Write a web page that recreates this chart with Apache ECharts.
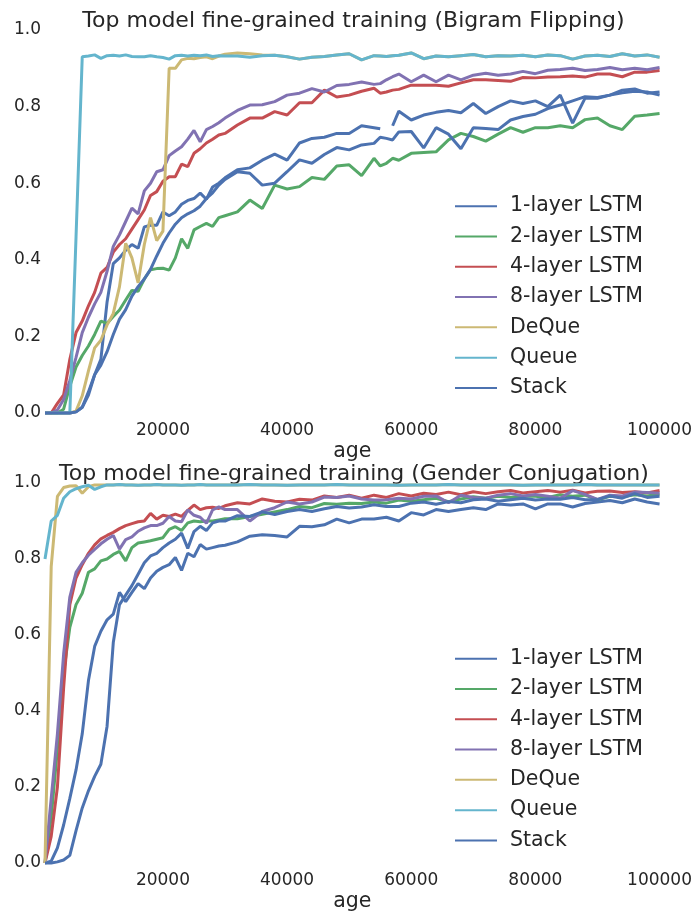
<!DOCTYPE html>
<html><head><meta charset="utf-8">
<script src="https://cdn.jsdelivr.net/npm/echarts@6/dist/echarts.min.js"></script>
<style>html,body{margin:0;padding:0;background:#fff}#c{width:695px;height:913px}</style>
</head><body><div id="c"></div>
<script>
const seriesNames = ['1-layer LSTM','2-layer LSTM','4-layer LSTM','8-layer LSTM','DeQue','Queue','Stack'];
const seriesColors = ['#4C72B0','#55A868','#C44E52','#8172B2','#CCB974','#64B5CD','#4C72B0'];
const titleTop = 'Top model fine-grained training (Bigram Flipping)';
const titleBottom = 'Top model fine-grained training (Gender Conjugation)';
const xTickValues = [20000,40000,60000,80000,100000];
const yTickStep = 0.2;

// ---------- Top chart (Bigram Flipping) ----------
const agesTop = [1000,2000,3000,4000,5000,6000,7000,8000,9000,10000,11000,12000,13000,14000,15000,16000,17000,18000,19000,20000,21000,22000,23000,24000,25000,26000,27000,28000,29000,30000,
32000,34000,36000,38000,40000,42000,44000,46000,48000,50000,52000,54000,55000,56000,57000,
58000,60000,62000,64000,66000,68000,70000,72000,74000,76000,78000,80000,82000,84000,86000,88000,90000,92000,94000,96000,98000,100000];

const top1Layer = [0,0,0,0,0,0.003,0.015,0.047,0.1,0.14,0.29,0.39,0.405,0.425,0.44,0.43,0.486,0.49,0.49,0.525,0.515,0.525,0.545,0.555,0.56,0.574,0.558,0.59,0.6,0.614,
0.635,0.64,0.66,0.676,0.66,0.705,0.717,0.72,0.73,0.73,0.75,0.745,0.742,null,0.75,
0.788,0.765,0.778,0.785,0.79,0.784,0.808,0.782,0.8,0.815,0.808,0.815,0.8,0.83,0.757,0.822,0.822,0.83,0.836,0.84,0.838,0.83];
const top2Layer = [0,0,0,0.01,0.07,0.12,0.15,0.175,0.205,0.24,0.234,0.252,0.269,0.295,0.32,0.318,0.35,0.374,0.377,0.378,0.373,0.405,0.455,0.43,0.478,0.487,0.495,0.487,0.51,0.515,
0.525,0.556,0.534,0.595,0.585,0.591,0.615,0.61,0.645,0.648,0.62,0.665,0.645,0.652,0.665,
0.66,0.678,0.68,0.682,0.713,0.73,0.722,0.71,0.728,0.745,0.733,0.745,0.745,0.75,0.745,0.766,0.77,0.75,0.74,0.775,0.778,0.782];
const top4Layer = [0,0,0.025,0.047,0.14,0.21,0.24,0.28,0.315,0.365,0.38,0.42,0.44,0.455,0.48,0.505,0.53,0.568,0.578,0.605,0.617,0.617,0.65,0.643,0.678,0.69,0.705,0.715,0.726,0.73,
0.752,0.77,0.77,0.787,0.778,0.81,0.81,0.843,0.825,0.83,0.84,0.848,0.835,0.838,0.843,
0.845,0.856,0.856,0.856,0.853,0.862,0.87,0.87,0.868,0.866,0.876,0.875,0.877,0.878,0.88,0.877,0.885,0.885,0.878,0.89,0.89,0.894];
const top8Layer = [0,0,0.008,0.035,0.085,0.145,0.21,0.25,0.285,0.315,0.37,0.435,0.465,0.5,0.535,0.52,0.58,0.6,0.63,0.635,0.672,0.684,0.695,0.715,0.738,0.708,0.74,0.748,0.758,0.77,
0.79,0.804,0.805,0.813,0.83,0.835,0.847,0.838,0.855,0.858,0.864,0.858,0.86,0.87,0.878,
0.885,0.865,0.882,0.865,0.882,0.87,0.882,0.887,0.882,0.885,0.892,0.886,0.895,0.897,0.9,0.894,0.897,0.902,0.896,0.9,0.896,0.902];
const topDeque = [0,0,0,0,0,0.005,0.045,0.11,0.17,0.19,0.23,0.26,0.33,0.443,0.405,0.34,0.44,0.51,0.45,0.475,0.9,0.9,0.922,0.926,0.925,0.928,0.93,0.925,0.932,0.937,
0.94,0.938,0.935,0.934,0.93,0.924,0.929,0.931,0.935,0.938,0.922,0.933,0.932,0.931,0.933,
0.934,0.94,0.925,0.932,0.93,0.933,0.936,0.93,0.933,0.932,0.934,0.93,0.935,0.933,0.924,0.932,0.934,0.931,0.938,0.932,0.935,0.929];
const topQueue = [0,0,0,0,0,0.46,0.93,0.932,0.935,0.926,0.933,0.934,0.932,0.935,0.931,0.93,0.93,0.933,0.93,0.928,0.924,0.933,0.934,0.932,0.934,0.933,0.935,0.931,0.933,0.932,
0.932,0.929,0.933,0.934,0.93,0.924,0.929,0.931,0.935,0.938,0.922,0.933,0.932,0.931,0.933,
0.934,0.94,0.925,0.932,0.93,0.933,0.936,0.93,0.933,0.932,0.934,0.93,0.935,0.933,0.924,0.932,0.934,0.931,0.938,0.932,0.935,0.929];
const topStack = [0,0,0,0,0,0.003,0.015,0.055,0.1,0.125,0.16,0.205,0.245,0.27,0.305,0.33,0.35,0.375,0.41,0.443,0.47,0.493,0.51,0.52,0.528,0.54,0.56,0.575,0.595,0.61,
0.63,0.626,0.595,0.6,0.63,0.661,0.652,0.675,0.693,0.687,0.7,0.704,0.72,0.717,0.713,
0.734,0.735,0.692,0.745,0.728,0.69,0.745,0.743,0.74,0.765,0.774,0.78,0.795,0.804,0.815,0.826,0.824,0.83,0.843,0.846,0.835,0.838];

// ---------- Bottom chart (Gender Conjugation) ----------
const agesBottom = [1000,2000,3000,4000,5000,6000,7000,8000,9000,10000,11000,12000,13000,14000,15000,16000,17000,18000,19000,20000,21000,22000,23000,24000,25000,26000,27000,28000,29000,30000,
32000,34000,36000,38000,40000,42000,44000,46000,48000,50000,52000,54000,56000,58000,60000,62000,64000,66000,68000,70000,72000,74000,76000,78000,80000,82000,84000,86000,88000,90000,92000,94000,96000,98000,100000];

const bot1Layer = [0,0.005,0.04,0.1,0.17,0.245,0.34,0.48,0.57,0.61,0.64,0.655,0.712,0.688,0.712,0.735,0.722,0.75,0.768,0.778,0.785,0.804,0.77,0.815,0.806,0.838,0.826,0.83,0.834,0.836,
0.845,0.86,0.864,0.862,0.858,0.886,0.885,0.89,0.905,0.895,0.905,0.905,0.91,0.9,0.922,0.916,0.93,0.925,0.93,0.935,0.93,0.945,0.942,0.945,0.932,0.945,0.945,0.937,0.946,0.95,0.954,0.948,0.958,0.95,0.945];
const bot2Layer = [0,0.12,0.3,0.5,0.62,0.68,0.71,0.765,0.774,0.795,0.8,0.812,0.82,0.795,0.83,0.842,0.845,0.848,0.852,0.856,0.878,0.885,0.875,0.895,0.9,0.898,0.9,0.9,0.903,0.906,
0.906,0.912,0.918,0.924,0.93,0.938,0.935,0.946,0.944,0.947,0.946,0.95,0.947,0.955,0.952,0.956,0.96,0.951,0.958,0.964,0.96,0.965,0.962,0.965,0.965,0.962,0.969,0.965,0.968,0.956,0.965,0.964,0.969,0.966,0.971];
const bot4Layer = [0,0.07,0.2,0.46,0.68,0.75,0.785,0.815,0.837,0.853,0.862,0.87,0.88,0.888,0.893,0.898,0.9,0.92,0.905,0.915,0.912,0.918,0.912,0.928,0.942,0.93,0.935,0.936,0.933,0.94,
0.948,0.945,0.958,0.952,0.95,0.957,0.955,0.966,0.962,0.968,0.96,0.968,0.962,0.972,0.966,0.973,0.97,0.976,0.969,0.977,0.972,0.977,0.98,0.974,0.977,0.98,0.976,0.981,0.974,0.978,0.979,0.975,0.977,0.974,0.98];
const bot8Layer = [0,0.17,0.34,0.55,0.7,0.765,0.79,0.81,0.825,0.84,0.852,0.862,0.826,0.851,0.858,0.873,0.882,0.888,0.888,0.894,0.912,0.9,0.898,0.929,0.915,0.91,0.894,0.929,0.937,0.93,
0.93,0.9,0.925,0.935,0.95,0.945,0.95,0.963,0.962,0.966,0.958,0.955,0.956,0.96,0.958,0.965,0.966,0.948,0.968,0.962,0.96,0.968,0.972,0.966,0.97,0.965,0.96,0.98,0.97,0.957,0.968,0.966,0.976,0.975,0.973];
const botDeque = [0,0.78,0.965,0.988,0.992,0.993,0.973,0.99,0.995,0.995,0.995,0.995,0.996,0.995,0.995,0.994,0.995,0.995,0.996,0.995,0.995,0.995,0.994,0.995,0.995,0.996,0.995,0.995,0.995,0.995,
0.995,0.996,0.995,0.995,0.994,0.995,0.995,0.995,0.996,0.995,0.995,0.995,0.995,0.994,0.995,0.995,0.995,0.996,0.995,0.995,0.995,0.995,0.995,0.994,0.995,0.995,0.995,0.995,0.996,0.995,0.995,0.995,0.995,0.995,0.995];
const botQueue = [0.8,0.9,0.915,0.96,0.977,0.985,0.99,0.994,0.983,0.99,0.995,0.995,0.996,0.995,0.995,0.994,0.995,0.995,0.996,0.995,0.995,0.995,0.994,0.995,0.995,0.996,0.995,0.995,0.995,0.995,
0.995,0.996,0.995,0.995,0.994,0.995,0.995,0.995,0.996,0.995,0.995,0.995,0.995,0.994,0.995,0.995,0.995,0.996,0.995,0.995,0.995,0.995,0.995,0.994,0.995,0.995,0.995,0.995,0.996,0.995,0.995,0.995,0.995,0.995,0.995];
const botStack = [0,0,0.003,0.008,0.02,0.085,0.145,0.19,0.228,0.26,0.36,0.58,0.68,0.705,0.73,0.76,0.79,0.808,0.815,0.83,0.842,0.852,0.868,0.828,0.872,0.886,0.875,0.895,0.9,0.9,
0.914,0.912,0.924,0.917,0.925,0.93,0.925,0.932,0.938,0.934,0.937,0.943,0.938,0.938,0.947,0.95,0.944,0.951,0.948,0.956,0.958,0.952,0.956,0.96,0.955,0.958,0.957,0.962,0.956,0.956,0.966,0.96,0.972,0.962,0.965];

const topValues = [top1Layer, top2Layer, top4Layer, top8Layer, topDeque, topQueue, topStack];
const botValues = [bot1Layer, bot2Layer, bot4Layer, bot8Layer, botDeque, botQueue, botStack];

const FONT = 'DejaVu Sans';
const TXT = '#262626';

function pairs(ages, vals) {
  return ages.map((a, i) => [a, vals[i] === null ? '-' : vals[i]]);
}
function makeSeries(ages, valsList, idx) {
  return valsList.map((vals, k) => ({
    name: seriesNames[k],
    type: 'line',
    xAxisIndex: idx, yAxisIndex: idx,
    data: pairs(ages, vals),
    symbol: 'none', showSymbol: false,
    clip: false,
    connectNulls: false,
    lineStyle: { width: 3, color: seriesColors[k] },
    itemStyle: { color: seriesColors[k] },
    emphasis: { disabled: true },
    animation: false
  }));
}
function xAxisCfg(idx) {
  return {
    gridIndex: idx, type: 'value', min: 1000, max: 100000,
    axisLine: { show: false }, axisTick: { show: false }, splitLine: { show: false },
    axisLabel: { customValues: xTickValues, formatter: v => String(Math.round(v)), fontSize: 17, fontFamily: FONT, color: TXT, margin: 9 },
    name: 'age', nameLocation: 'middle', nameGap: 28,
    nameTextStyle: { fontSize: 20.5, fontFamily: FONT, color: TXT }
  };
}
function yAxisCfg(idx) {
  return {
    gridIndex: idx, type: 'value', min: 0, max: 1, interval: yTickStep,
    axisLine: { show: false }, axisTick: { show: false }, splitLine: { show: false },
    axisLabel: { formatter: v => v.toFixed(1), fontSize: 17, fontFamily: FONT, color: TXT, margin: 4 }
  };
}
function legendCfg(top) {
  return {
    data: seriesNames, orient: 'vertical', left: 450, top: top,
    icon: 'rect', itemWidth: 42, itemHeight: 2, itemGap: 0,
    selectedMode: false,
    textStyle: { fontSize: 20.5, fontFamily: FONT, color: TXT, lineHeight: 30.3, padding: [0, 0, 0, 8] }
  };
}

const chart = echarts.init(document.getElementById('c'), null, { renderer: 'canvas' });
chart.setOption({
  backgroundColor: '#ffffff',
  animation: false,
  grid: [
    { left: 45, top: 30, width: 615, height: 383 },
    { left: 45, top: 483, width: 615, height: 383 }
  ],
  xAxis: [xAxisCfg(0), xAxisCfg(1)],
  yAxis: [yAxisCfg(0), yAxisCfg(1)],
  legend: [legendCfg(186), legendCfg(638.5)],
  graphic: [
    { type: 'text', x: 353.5, y: 21, style: { text: titleTop, fontSize: 22, fontFamily: FONT, fill: TXT, align: 'center', verticalAlign: 'middle' } },
    { type: 'text', x: 354, y: 474, style: { text: titleBottom, fontSize: 22, fontFamily: FONT, fill: TXT, align: 'center', verticalAlign: 'middle' } }
  ],
  series: makeSeries(agesTop, topValues, 0).concat(makeSeries(agesBottom, botValues, 1))
});
</script>
</body></html>
